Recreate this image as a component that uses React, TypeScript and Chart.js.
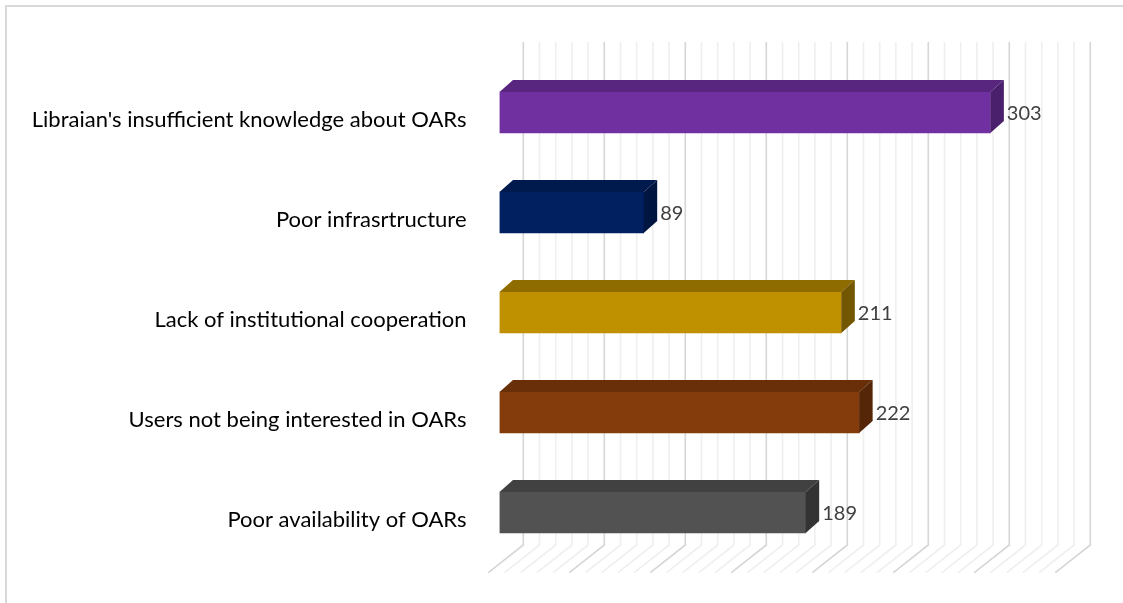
import React, { useEffect, useRef } from "react";
import { Chart, registerables } from "chart.js";

Chart.register(...registerables);

const categories = [
  "Libraian's insufficient knowledge about OARs",
  "Poor infrasrtructure",
  "Lack of institutional cooperation",
  "Users not being interested in OARs",
  "Poor availability of OARs",
];
const values = [303, 89, 211, 222, 189];
const frontColors = ["#7030a0", "#002060", "#bf9000", "#843c0c", "#525252"];
const topColors = ["#58267f", "#001a4d", "#8f6c00", "#682f09", "#414141"];
const sideColors = ["#4a1f6b", "#001540", "#735700", "#552607", "#333333"];
const axisMin = 0;
const axisMax = 350;
const minorStep = 10;
const majorStep = 50;

const DX = 13.5;
const DY = 12;
const WALL_DX = 23.8;
const FLOOR_DX = -11.2;
const WALL_TOP = 42;
const WALL_BOTTOM = 545;
const FLOOR_Y = 572.7;

const gridPlugin = {
  id: "grid3d",
  beforeDatasetsDraw(chart: any) {
    const ctx = chart.ctx;
    const xs = chart.scales.x;
    ctx.save();
    for (let v = axisMin; v <= axisMax; v += minorStep) {
      const major = v % majorStep === 0;
      const fx = xs.getPixelForValue(v);
      const wx = fx + WALL_DX;
      ctx.beginPath();
      ctx.moveTo(wx, WALL_TOP);
      ctx.lineTo(wx, WALL_BOTTOM);
      ctx.lineTo(fx + FLOOR_DX, FLOOR_Y);
      ctx.strokeStyle = major ? "#d6d6d6" : "#efefef";
      ctx.lineWidth = 1.6;
      ctx.stroke();
    }
    ctx.restore();
  },
  afterDatasetsDraw(chart: any) {
    const ctx = chart.ctx;
    const meta = chart.getDatasetMeta(0);
    ctx.save();
    meta.data.forEach((bar: any, i: number) => {
      const x0 = bar.base;
      const x1 = bar.x;
      const y0 = bar.y - bar.height / 2;
      const y1 = bar.y + bar.height / 2;
      ctx.beginPath();
      ctx.moveTo(x0, y0);
      ctx.lineTo(x0 + DX, y0 - DY);
      ctx.lineTo(x1 + DX, y0 - DY);
      ctx.lineTo(x1, y0);
      ctx.closePath();
      ctx.fillStyle = topColors[i];
      ctx.fill();
      ctx.beginPath();
      ctx.moveTo(x1, y0);
      ctx.lineTo(x1 + DX, y0 - DY);
      ctx.lineTo(x1 + DX, y1 - DY);
      ctx.lineTo(x1, y1);
      ctx.closePath();
      ctx.fillStyle = sideColors[i];
      ctx.fill();
      ctx.fillStyle = "#404040";
      ctx.font = "20px Lato";
      ctx.textAlign = "left";
      ctx.textBaseline = "middle";
      ctx.fillText(String(values[i]), x1 + DX + 3, bar.y + 1);
    });
    ctx.restore();
  },
  afterDraw(chart: any) {
    const ctx = chart.ctx;
    ctx.save();
    ctx.strokeStyle = "#d9d9d9";
    ctx.lineWidth = 2;
    ctx.beginPath();
    ctx.moveTo(6, 700);
    ctx.lineTo(6, 6);
    ctx.lineTo(1200, 6);
    ctx.stroke();
    ctx.restore();
  },
};

export default function App() {
  const ref = useRef<HTMLCanvasElement | null>(null);
  useEffect(() => {
    if (!ref.current) return;
    const chart = new Chart(ref.current, {
      type: "bar",
      data: {
        labels: categories,
        datasets: [
          {
            data: values,
            backgroundColor: frontColors,
            borderWidth: 0,
            barThickness: 41,
          },
        ],
      },
      options: {
        indexAxis: "y",
        animation: false,
        responsive: false,
        layout: { padding: { left: 0, right: 56.5, top: 62.5, bottom: 40.5 } },
        plugins: { legend: { display: false }, tooltip: { enabled: false } },
        scales: {
          x: {
            display: false,
            min: axisMin,
            max: axisMax,
          },
          y: {
            grid: { display: false },
            border: { display: false },
            ticks: {
              color: "#000000",
              font: { family: "Lato", size: 22 },
              padding: 25,
              labelOffset: 7,
            },
            afterFit(scale: any) {
              scale.width = 499.5;
            },
          },
        },
      },
      plugins: [gridPlugin],
    });
    return () => chart.destroy();
  }, []);
  return (
    <div style={{ position: "fixed", left: 0, top: 0, width: 1123, height: 603, background: "#fff" }}>
      <canvas ref={ref} width={1123} height={603} />
    </div>
  );
}
